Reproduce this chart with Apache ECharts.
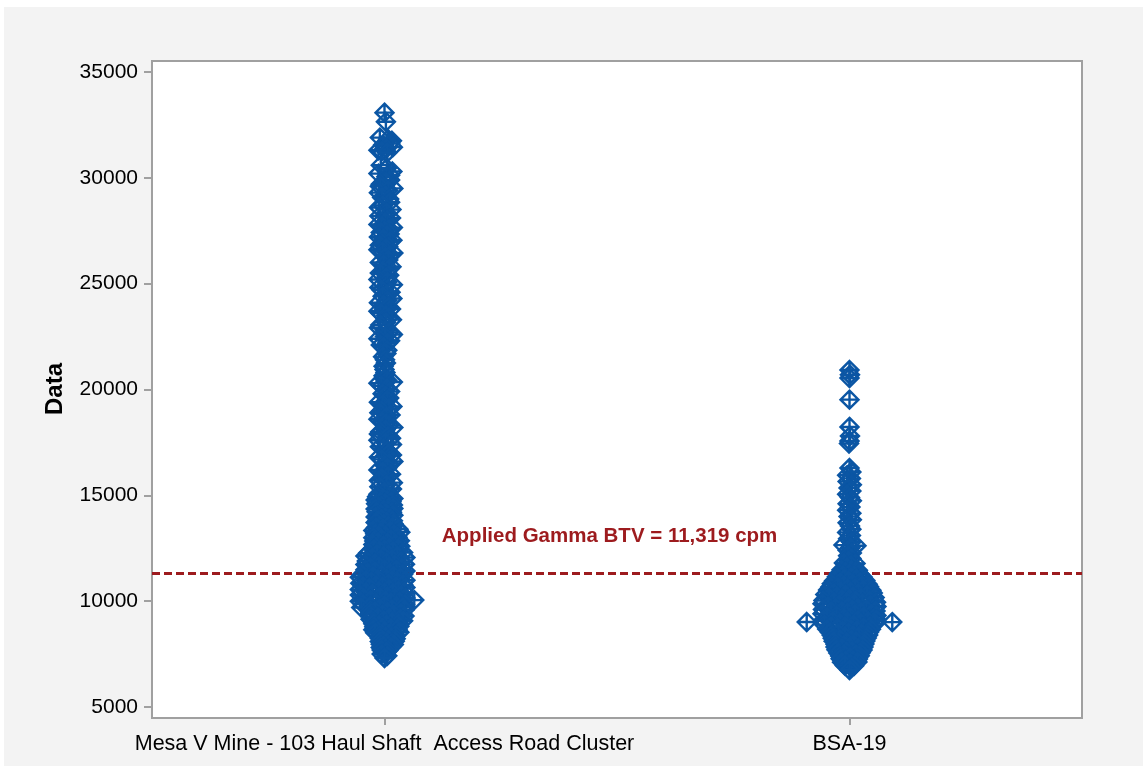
<!DOCTYPE html>
<html><head><meta charset="utf-8">
<script src="https://cdn.jsdelivr.net/npm/echarts@6/dist/echarts.min.js"></script>
<style>html,body{margin:0;padding:0;background:#ffffff;}#c{position:absolute;left:4px;top:7px;width:1139px;height:759px;}</style>
</head><body><div id="c"></div>
<script>
// ---- data ----
const categories = ['Mesa V Mine - 103 Haul Shaft  Access Road Cluster', 'BSA-19'];
const yAxisTitle = 'Data';
const btvValue = 11319;
const btvText = 'Applied Gamma BTV = 11,319 cpm';
// [value (cpm), horizontal jitter (category units)]
const mesaPoints = [
[33080,0.000],[32650,0.003],[31900,-0.010],[31820,0.008],[31750,0.016],[31620,0.012],[31550,-0.003],[31450,0.018],[31380,0.004],[31300,-0.013],[31250,-0.006],[31200,0.006],
[30600,-0.008],[30450,0.005],[30300,0.017],[30200,-0.013],[30120,0.012],[30050,0.004],[29900,0.012],[29800,0.003],[29700,-0.008],[29600,-0.010],[29500,0.019],[29400,0.008],[29300,-0.012],
[29150,0.002],[29070,-0.005],[29000,0.010],[28850,0.012],[28700,-0.004],[28600,-0.012],[28500,0.015],[28350,0.004],[28200,-0.011],[28100,0.014],[28000,0.006],[27900,0.002],[27800,-0.013],[27720,-0.006],[27650,0.018],
[27580,0.010],[27500,0.000],[27420,-0.008],[27350,0.011],[27280,0.005],[27200,-0.012],[27120,-0.002],[27050,0.017],[26980,0.012],[26900,-0.005],[26820,-0.010],[26750,0.008],[26680,0.003],[26600,-0.013],[26520,-0.004],[26450,0.019],
[26350,0.012],[26250,0.002],[26120,0.008],[26000,-0.010],[25900,-0.002],[25800,0.015],[25700,0.010],[25600,-0.004],[25500,-0.010],[25400,0.010],[25300,0.004],[25200,-0.013],[25080,0.006],[24950,0.018],[24820,-0.011],[24700,-0.006],
[24600,0.013],[24500,0.005],[24400,-0.004],[24300,0.017],[24200,0.006],[24100,-0.012],[24000,-0.002],[23900,0.009],[23800,0.014],[23700,-0.013],[23600,-0.008],[23500,0.004],[23400,0.010],[23300,0.016],[23180,0.003],[23050,-0.009],
[22920,-0.012],[22800,0.002],[22700,0.010],[22600,0.018],[22500,0.001],[22400,-0.013],[22300,0.012],[22200,0.007],[22100,-0.008],[22000,-0.002],[21850,0.006],[21700,0.004],[21550,-0.003],[21400,0.001],[21250,0.003],[21100,-0.002],
[20950,0.000],[20800,0.002],[20650,-0.002],[20500,0.000],[20420,0.006],[20350,0.018],[20300,-0.013],[20180,-0.006],[20050,0.005],[19900,0.012],[19800,-0.004],[19700,0.002],[19600,0.010],[19500,0.006],[19400,-0.012],
[19300,-0.004],[19200,0.017],[19100,0.010],[19000,-0.006],[18900,-0.011],[18800,0.013],[18700,0.004],[18600,-0.013],[18500,-0.005],[18400,0.003],[18300,0.010],[18200,0.019],[18100,0.002],[18000,-0.009],[17900,-0.012],[17800,0.008],
[17700,0.014],[17600,-0.013],[17500,0.002],[17400,0.016],[17300,-0.010],[17200,-0.002],[17100,0.006],[17000,0.011],[16900,0.016],[16800,-0.012],[16700,-0.006],[16600,0.019],[16500,0.010],[16400,0.001],[16300,0.006],[16200,-0.013],
[16100,-0.004],[16000,0.014],[15900,0.008],[15800,-0.005],[15700,-0.012],[15600,0.018],[15500,0.004],[15400,-0.011],[15300,0.016],[15200,0.007],[15150,0.000],[15050,-0.013],
[14950,0.012],[14930,-0.016],[14870,-0.004],[14850,0.019],[14780,-0.019],[14760,0.006],[14700,0.015],[14680,-0.009],
[14620,0.001],[14600,-0.018],[14540,0.018],[14520,-0.006],[14460,-0.013],[14440,0.010],[14380,0.019],[14360,-0.019],
[14300,-0.002],[14280,0.007],[14220,-0.017],[14200,0.016],[14140,0.004],[14120,-0.008],[14060,0.019],[14040,-0.015],
[13980,-0.019],[13960,0.002],[13900,0.012],[13880,-0.006],[13820,-0.014],[13800,0.018],[13740,0.005],[13720,-0.019],
[13660,0.019],[13640,-0.002],[13580,-0.011],[13560,0.009],[13500,0.017],[13480,-0.018],[13420,-0.003],[13400,0.030],
[13340,-0.024],[13320,0.012],[13260,0.034],[13240,-0.008],[13180,-0.020],[13160,0.020],[13100,0.002],[13080,-0.013],
[13020,0.028],[13000,-0.024],[12940,-0.006],[12920,0.014],[12860,0.033],[12840,-0.022],[12780,-0.014],[12760,0.006],
[12700,0.024],[12680,-0.024],[12620,-0.002],[12600,0.034],[12540,-0.019],[12520,0.010],[12460,0.030],[12450,-0.023],
[12440,0.000],[12380,-0.010],[12360,0.018],[12300,0.040],[12280,-0.035],[12220,-0.016],[12200,0.008],[12140,0.028],
[12130,-0.041],[12120,-0.002],[12060,0.045],[12040,-0.026],[11980,-0.008],[11960,0.016],[11900,-0.038],[11880,0.036],
[11820,0.004],[11800,-0.020],[11740,0.044],[11730,-0.041],[11720,0.022],[11660,-0.012],[11640,0.010],[11580,-0.030],
[11560,0.038],[11500,0.000],[11490,-0.041],[11480,0.026],[11420,0.045],[11400,-0.020],[11340,-0.036],[11320,0.012],
[11270,0.040],[11260,-0.048],[11250,-0.006],[11200,0.020],[11180,-0.025],[11130,-0.053],[11110,0.034],[11060,0.004],
[11040,-0.014],[10990,0.045],[10980,-0.040],[10970,0.016],[10920,-0.028],[10900,0.028],[10850,-0.052],[10830,0.008],
[10780,0.040],[10760,-0.018],[10710,-0.046],[10700,0.024],[10690,-0.004],[10640,0.045],[10620,-0.032],[10570,0.010],
[10550,-0.053],[10500,0.030],[10480,-0.012],[10430,-0.040],[10420,0.043],[10410,0.000],[10360,0.018],[10340,-0.026],
[10290,-0.053],[10270,0.036],[10220,0.006],[10200,-0.010],[10150,0.045],[10140,-0.045],[10130,0.022],[10050,0.064],
[10040,-0.030],[10030,0.002],[10000,-0.053],[9980,0.032],[9930,0.014],[9910,-0.018],[9860,-0.046],[9840,0.044],
[9790,0.000],[9780,-0.030],[9770,0.026],[9720,0.040],[9700,-0.050],[9650,-0.010],[9630,0.016],[9580,0.043],
[9560,-0.030],[9510,-0.020],[9490,0.006],[9440,0.036],[9420,-0.030],[9370,-0.004],[9350,0.020],[9300,0.043],
[9280,-0.028],[9230,-0.014],[9210,0.010],[9160,0.034],[9140,-0.030],[9090,-0.002],[9070,0.040],[9020,-0.024],
[9000,0.016],[8950,0.030],[8930,-0.024],[8880,0.004],[8860,-0.012],[8810,0.032],[8790,-0.022],[8740,-0.004],
[8720,0.014],[8670,0.028],[8650,-0.024],[8600,0.000],[8580,-0.014],[8530,0.032],[8510,-0.020],[8460,0.010],
[8440,-0.006],[8390,0.024],[8370,-0.010],[8320,0.002],[8300,0.014],[8250,-0.010],[8230,0.024],[8180,0.008],
[8160,-0.004],[8110,0.022],[8090,-0.010],[8040,0.004],[8020,0.016],[7970,-0.008],[7950,0.020],[7900,0.008],
[7880,-0.002],[7830,0.014],[7810,-0.008],[7760,0.002],[7690,-0.006],[7670,0.008],[7600,0.004],[7500,-0.006],
[7420,0.006],[7315,0.000]
];
const bsaPoints = [
[20920,0.000],[20700,0.001],[20540,0.000],[19520,0.000],[18230,0.000],[17800,0.001],[17570,0.000],[17450,-0.001],
[16290,0.000],[16100,0.004],[15950,-0.005],[15800,0.003],[15650,-0.004],[15500,0.005],[15350,-0.002],[15200,0.004],
[15050,-0.005],[14900,0.001],[14750,0.005],[14600,-0.004],[14450,0.002],[14300,-0.005],[14150,0.004],[14000,-0.002],
[13850,0.005],[13700,-0.004],[13550,0.001],[13400,0.004],[13250,-0.005],[13100,0.003],[12950,-0.003],[12800,0.004],
[12650,-0.013],[12620,0.015],[12520,0.002],[12400,-0.004],[12280,0.005],[12150,-0.003],[12020,0.004],[11900,-0.002],
[11800,-0.012],[11780,0.013],[11690,0.003],[11600,-0.005],
[11480,-0.017],[11470,0.004],[11460,0.018],[11390,-0.008],[11380,0.012],[11310,-0.022],[11300,0.021],[11290,-0.001],
[11220,0.009],[11210,-0.014],[11150,-0.027],[11140,0.028],[11130,0.003],[11060,-0.010],[11050,0.015],[10980,0.034],
[10970,-0.033],[10960,-0.002],[10900,0.022],[10890,-0.020],[10820,-0.038],[10810,0.007],[10800,0.039],[10740,-0.012],
[10730,0.027],[10680,0.042],[10670,-0.041],[10660,-0.025],[10600,0.012],[10590,-0.004],[10530,-0.046],[10520,0.030],
[10510,0.047],[10460,-0.020],[10450,0.002],[10390,0.050],[10380,-0.034],[10370,0.019],[10310,-0.052],[10300,-0.009],
[10290,0.038],[10240,0.008],[10230,-0.027],[10170,0.054],[10160,-0.044],[10150,0.025],[10100,-0.016],[10090,0.000],
[10030,-0.056],[10020,0.044],[10010,0.013],[9960,-0.033],[9950,0.057],[9940,-0.006],[9890,0.028],[9880,-0.058],
[9870,0.010],[9820,-0.022],[9810,0.045],[9750,0.058],[9740,-0.046],[9730,-0.002],[9680,0.018],[9670,-0.030],
[9610,-0.057],[9600,0.036],[9590,0.006],[9540,0.056],[9530,-0.016],[9520,-0.040],[9470,0.024],[9460,-0.004],
[9400,-0.058],[9390,0.047],[9380,0.012],[9330,-0.028],[9320,0.058],[9260,0.030],[9250,-0.048],[9240,0.002],
[9190,-0.012],[9180,0.052],[9120,0.058],[9110,-0.056],[9100,0.018],[9040,-0.036],[9030,0.040],[9025,-0.004],
[9016,-0.092],[9012,0.092],[8960,0.024],[8950,-0.020],[8940,0.055],[8890,-0.054],[8880,0.008],[8820,0.044],
[8810,-0.040],[8800,-0.010],[8750,0.030],[8740,-0.026],[8680,-0.048],[8670,0.046],[8660,0.004],[8610,0.016],
[8600,-0.014],[8540,0.042],[8530,-0.042],[8520,-0.002],[8470,-0.024],[8460,0.026],[8400,0.040],[8390,-0.038],
[8380,0.008],[8330,-0.010],[8320,0.020],[8260,0.037],[8250,-0.036],[8190,-0.020],[8180,0.004],[8120,0.034],
[8110,-0.034],[8100,0.014],[8050,-0.006],[8040,-0.024],[7980,0.032],[7970,-0.030],[7910,0.010],[7900,-0.012],
[7840,-0.030],[7830,0.030],[7820,0.000],[7770,0.018],[7760,-0.016],[7700,-0.028],[7690,0.028],[7630,0.006],
[7620,-0.006],[7560,0.024],[7550,-0.024],[7490,-0.012],[7480,0.014],[7420,0.022],[7410,-0.020],[7350,0.002],
[7280,-0.019],[7270,0.018],[7200,0.008],[7190,-0.008],[7130,0.017],[7120,-0.016],[7050,0.002],[6960,-0.010],
[6950,0.010],[6860,0.004],[6750,0.000]
];
// annotation anchor in data coordinates (x in category units, y in cpm)
const btvLabelAnchor = [1.484, 13080];
// ---- chart ----
const BLUE = '#0b56a4';
const RED = '#9d1b1e';
const FONT = "'Liberation Sans', Arial, sans-serif";
const markerPath = 'path://M10,0L20,10L10,20L0,10Z M10,0L10,20 M0,10L20,10';
function toXY(points, idx) { return points.map(p => [idx + 1 + p[1], p[0]]); }
const chart = echarts.init(document.getElementById('c'), null, {renderer: 'canvas'});
const baseGraphic = [
  {type: 'rect', id: 'frame', z: 0, shape: {x: 148, y: 54, width: 930, height: 657},
   style: {fill: '#ffffff', stroke: '#a0a0a0', lineWidth: 2}},
  {type: 'text', id: 'ytitle', z: 5, x: 51, y: 382, rotation: Math.PI / 2,
   style: {text: yAxisTitle, fill: '#000', font: "bold 24px 'Liberation Sans', Arial, sans-serif",
           textAlign: 'center', textVerticalAlign: 'middle'}}
];
const markerStyle = {color: 'rgba(0,0,0,0)', borderColor: BLUE, borderWidth: 2.4, opacity: 1};
chart.setOption({
  animation: false,
  backgroundColor: '#f3f3f3',
  textStyle: {fontFamily: FONT},
  grid: {left: 148, right: 61, top: 65, bottom: 59, containLabel: false},
  graphic: baseGraphic,
  xAxis: [
    {type: 'category', data: categories, position: 'bottom', offset: 11, z: 5,
     axisLine: {show: false},
     axisTick: {show: true, alignWithLabel: true, length: 7, lineStyle: {color: '#a0a0a0', width: 2}},
     axisLabel: {fontSize: 21.5, color: '#000', margin: 15, interval: 0, hideOverlap: false, fontFamily: FONT},
     splitLine: {show: false}},
    {type: 'value', min: 0.5, max: 2.5, show: false}
  ],
  yAxis: {type: 'value', min: 5000, max: 35000, interval: 5000, z: 5,
    axisLine: {show: false},
    axisTick: {show: true, length: 8, lineStyle: {color: '#a0a0a0', width: 2}},
    axisLabel: {fontSize: 21, color: '#000', margin: 14, fontFamily: FONT, formatter: v => String(v)},
    splitLine: {show: false}},
  series: [
    {type: 'line', xAxisIndex: 1, data: [], z: 2, silent: true,
     markLine: {silent: true, symbol: ['none', 'none'], label: {show: false}, z: 2,
       lineStyle: {color: RED, width: 3, type: [8, 4]}, data: [{yAxis: btvValue}]}},
    {type: 'scatter', name: categories[0], xAxisIndex: 1, data: toXY(mesaPoints, 0), z: 3,
     symbol: markerPath, symbolSize: 18, silent: true, itemStyle: markerStyle},
    {type: 'scatter', name: categories[1], xAxisIndex: 1, data: toXY(bsaPoints, 1), z: 3,
     symbol: markerPath, symbolSize: 18, silent: true, itemStyle: markerStyle}
  ]
});
const pos = chart.convertToPixel({xAxisIndex: 1, yAxisIndex: 0}, btvLabelAnchor);
chart.setOption({graphic: baseGraphic.concat([
  {type: 'text', id: 'btv', z: 10, x: pos[0], y: pos[1],
   style: {text: btvText, fill: RED, font: "bold 20.5px 'Liberation Sans', Arial, sans-serif",
           textAlign: 'center', textVerticalAlign: 'middle'}}
])});
</script></body></html>
